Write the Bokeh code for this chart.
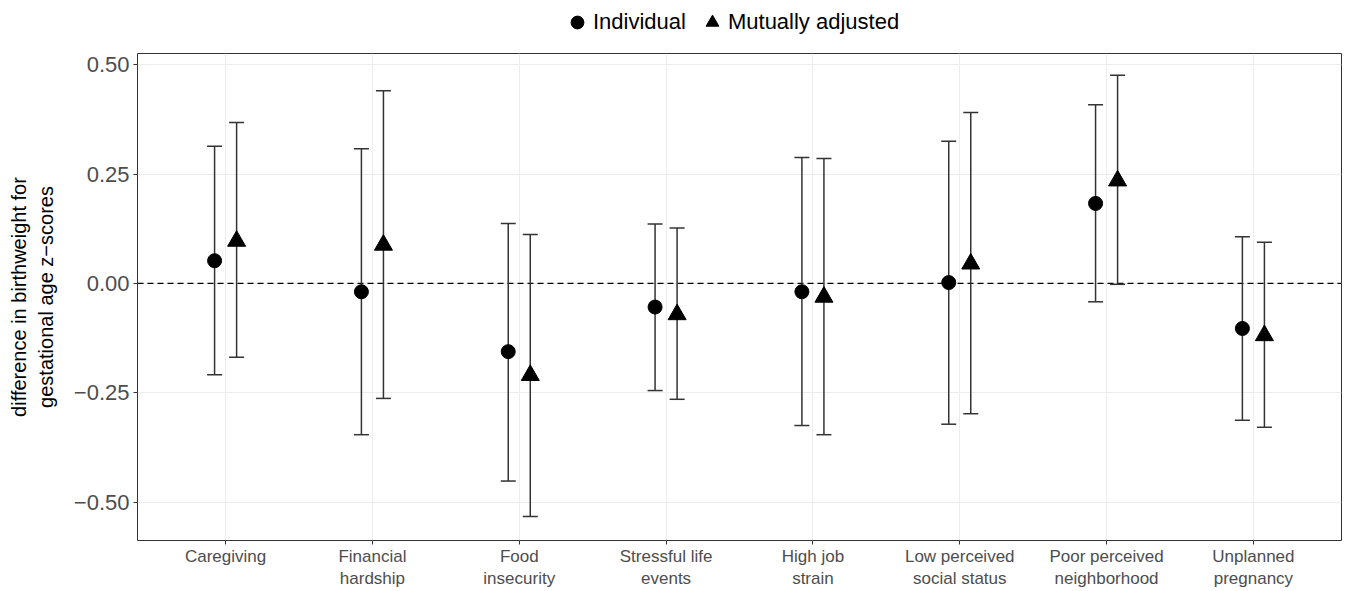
import numpy as np
from bokeh.plotting import figure
from bokeh.layouts import column
from bokeh.models import (ColumnDataSource, FactorRange, Range1d, Whisker, TeeHead,
                          Span, Legend, LegendItem, FixedTicker)
from bokeh.transform import dodge
from bokeh.embed import file_html
from bokeh.resources import INLINE

# ---- data ----
categories = ["Caregiving", "Financial\nhardship", "Food\ninsecurity", "Stressful life\nevents",
              "High job\nstrain", "Low perceived\nsocial status", "Poor perceived\nneighborhood",
              "Unplanned\npregnancy"]
ind_est = [0.052, -0.019, -0.156, -0.054, -0.019, 0.002, 0.183, -0.103]
ind_lo = [-0.209, -0.346, -0.452, -0.245, -0.325, -0.322, -0.042, -0.313]
ind_hi = [0.314, 0.308, 0.137, 0.136, 0.288, 0.325, 0.409, 0.107]
mut_est = [0.097, 0.088, -0.210, -0.071, -0.031, 0.045, 0.235, -0.119]
mut_lo = [-0.169, -0.263, -0.533, -0.265, -0.346, -0.298, -0.002, -0.329]
mut_hi = [0.368, 0.441, 0.112, 0.127, 0.286, 0.391, 0.476, 0.094]
y_ticks = [-0.5, -0.25, 0.0, 0.25, 0.5]
y_tick_labels = ["\u22120.50", "\u22120.25", "0.00", "0.25", "0.50"]
series_names = ["Individual", "Mutually adjusted"]

FONT = "Liberation Sans"
DARK = "#333333"

src_i = ColumnDataSource(dict(cat=categories, est=ind_est, lo=ind_lo, hi=ind_hi))
src_m = ColumnDataSource(dict(cat=categories, est=mut_est, lo=mut_lo, hi=mut_hi))

# ---- legend strip (own small figure above the panel; its ranges lie outside the data,
#      so its renderers only serve as legend keys) ----
lfig = figure(width=1346, height=52, x_range=Range1d(5, 6), y_range=Range1d(5, 6),
              output_backend="svg", toolbar_location=None,
              x_axis_location=None, y_axis_location=None, min_border=0)
lfig.outline_line_color = None
lfig.grid.grid_line_color = None
l_i = lfig.scatter(x="est", y="hi", source=src_i, marker="circle", size=14, color="black")
l_m = lfig.scatter(x="est", y="hi", source=src_m, marker="triangle", size=18, color="black")
legend = Legend(items=[LegendItem(label=series_names[0], renderers=[l_i]),
                       LegendItem(label=series_names[1], renderers=[l_m])],
                orientation="horizontal", location=(424, 14),
                label_text_font=FONT, label_text_font_size="22px", label_text_color="black",
                glyph_width=32, glyph_height=32, label_standoff=0, spacing=10,
                padding=0, margin=0, border_line_color=None, background_fill_alpha=0)
lfig.add_layout(legend)

# ---- main panel ----
xr = FactorRange(*categories, range_padding=0.1, range_padding_units="absolute")
fig = figure(width=1346, height=539, x_range=xr, y_range=Range1d(-0.588, 0.526),
             output_backend="svg", toolbar_location=None,
             min_border_left=137, min_border_right=5, min_border_top=1, min_border_bottom=48)

fig.background_fill_color = "white"
fig.border_fill_color = "white"
fig.outline_line_color = DARK
fig.outline_line_width = 1

fig.xgrid.grid_line_color = "#EDEDED"
fig.ygrid.grid_line_color = "#EDEDED"

fig.yaxis.ticker = FixedTicker(ticks=y_ticks)
fig.yaxis.major_label_overrides = {t: l for t, l in zip(y_ticks, y_tick_labels)}
for ax in (fig.xaxis[0], fig.yaxis[0]):
    ax.axis_line_color = None
    ax.major_tick_line_color = DARK
    ax.major_tick_out = 4
    ax.major_tick_in = 0
    ax.minor_tick_line_color = None
    ax.major_label_text_color = "#4D4D4D"
    ax.major_label_text_font = FONT
fig.yaxis.major_label_text_font_size = "22px"
fig.yaxis.major_label_standoff = 4
fig.xaxis.major_label_text_font_size = "17px"
fig.xaxis.major_label_standoff = 2
fig.yaxis.axis_label = "difference in birthweight for\ngestational age z\u2212scores"
fig.yaxis.axis_label_text_font = FONT
fig.yaxis.axis_label_text_font_size = "20px"
fig.yaxis.axis_label_text_font_style = "normal"
fig.yaxis.axis_label_text_color = "black"
fig.yaxis.axis_label_standoff = 14

fig.add_layout(Span(location=0, dimension="width", line_color="black", line_width=1.2,
                    line_dash="6 4", level="underlay"))

off = 0.075
for src, d in ((src_i, -off), (src_m, off)):
    w = Whisker(source=src, base=dodge("cat", d, range=xr), upper="hi", lower="lo",
                dimension="height", line_color=DARK, line_width=1.5,
                upper_head=TeeHead(size=15, line_color=DARK, line_width=1.5),
                lower_head=TeeHead(size=15, line_color=DARK, line_width=1.5))
    fig.add_layout(w)

fig.scatter(x=dodge("cat", -off, range=xr), y="est", source=src_i, marker="circle",
            size=14, color="black")
fig.scatter(x=dodge("cat", off, range=xr), y="est", source=src_m, marker="triangle",
            size=18, color="black")

p = column(lfig, fig, spacing=0)
open("out.html", "w").write(file_html(p, INLINE))
